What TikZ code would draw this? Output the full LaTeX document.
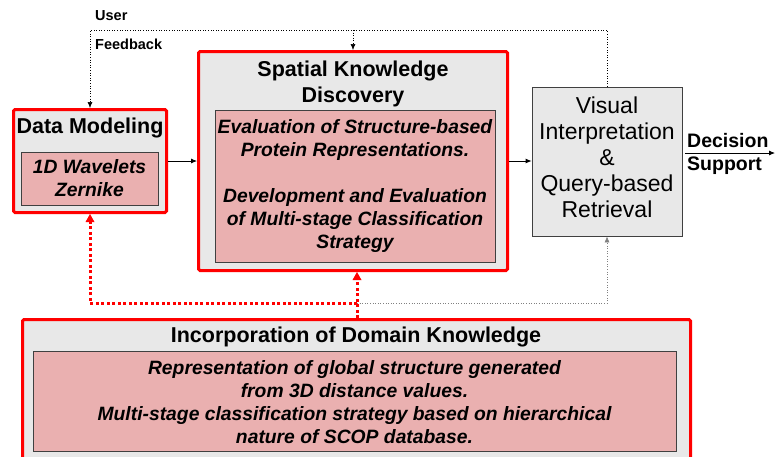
\documentclass[tikz,border=0pt]{standalone}
\usepackage{fontspec}
\setmainfont{Liberation Sans}
\usetikzlibrary{arrows.meta}
\definecolor{boxgray}{HTML}{E8E8E8}
\definecolor{boxpink}{HTML}{EAB0B0}
\definecolor{framegray}{HTML}{404040}
\definecolor{redframe}{HTML}{FF0000}

\begin{document}
\begin{tikzpicture}[x=1pt,y=-1pt,
  outerbox/.style={draw=redframe, line width=3pt, fill=boxgray, rounded corners=1.5pt, inner sep=0pt},
  innerbox/.style={draw=framegray, line width=0.8pt, fill=boxpink, inner sep=0pt},
  plainbox/.style={draw=framegray, line width=0.8pt, fill=boxgray, inner sep=0pt},
  titletext/.style={font=\bfseries\fontsize{21.5}{26}\selectfont, align=center, inner sep=0pt},
  itemtext/.style={font=\bfseries\itshape\fontsize{19.3}{23}\selectfont, align=center, inner sep=0pt},
  plaintext/.style={font=\fontsize{23}{26}\selectfont, align=center, inner sep=0pt},
  smalltext/.style={font=\bfseries\fontsize{14.5}{16}\selectfont, inner sep=0pt},
  sidetext/.style={font=\bfseries\fontsize{19.5}{23}\selectfont, inner sep=0pt, anchor=base west},
  flow/.style={line width=0.8pt, -{Latex[length=6pt,width=5pt]}},
  feedback/.style={line width=0.6pt, dotted, -{Latex[length=6pt,width=5pt]}},
  softlink/.style={draw=gray, line width=0.6pt, dotted, -{Latex[length=6pt,width=5pt]}},
  domainlink/.style={draw=redframe, line width=3pt, dash pattern=on 3pt off 2.5pt,
                     -{Triangle[length=8pt,width=9pt,line width=0pt]}},
]
\clip (0,0) rectangle (775,456);
\useasboundingbox (0,0) rectangle (775,456);

% boxes
\node[outerbox, minimum width=153pt, minimum height=103pt] (dm) at (90,161) {};
\node[innerbox, minimum width=137pt, minimum height=53pt] (dmin) at (89.5,178.5) {};
\node[outerbox, minimum width=309pt, minimum height=219pt] (skd) at (353,161) {};
\node[innerbox, minimum width=280pt, minimum height=152pt] (skdin) at (355,186) {};
\node[plainbox, minimum width=150pt, minimum height=149pt] (vis) at (607,161.5) {};
\node[outerbox, minimum width=668pt, minimum height=170pt] (inc) at (356.5,404.5) {};
\node[innerbox, minimum width=643pt, minimum height=100pt] (incin) at (354.5,401) {};

% texts
\node[titletext] (dmt) at (90,128) {Data Modeling};
\node[itemtext] (dmit) at (dmin.center) {1D Wavelets\\Zernike};
\node[titletext] (skdt) at (353,84) {Spatial Knowledge\\Discovery};
\node[itemtext] (skdit) at (skdin.center) {Evaluation of Structure-based\\Protein Representations.\\[23pt]Development and Evaluation\\of Multi-stage Classification\\Strategy};
\node[plaintext] (vist) at ([yshift=4pt]vis.center) {Visual\\Interpretation\\\&\\Query-based\\Retrieval};
\node[titletext] (inct) at (356,337) {Incorporation of Domain Knowledge};
\node[itemtext] (incit) at ([yshift=-1.5pt]incin.center) {Representation of global structure generated\\from 3D distance values.\\Multi-stage classification strategy based on hierarchical\\nature of SCOP database.};
\node[smalltext, anchor=base west] (user) at (95,20) {User};
\node[smalltext, anchor=base west] (fbk) at (95,49) {Feedback};
\node[sidetext] (dec) at (687,147) {Decision};
\node[sidetext] (sup) at (687,170) {Support};

% main flow
\draw[flow] (dm.east) -- (skd.west);
\draw[flow] (skd.east) -- (vis.west |- skd.east);
\coordinate (out) at (775,153);
\draw[flow] (vis.east |- out) ++(3,0) -- (out);

% user feedback loop
\coordinate (fbline) at (0,30);
\draw[feedback] (vis.north) |- (dm.north |- fbline) -- (dm.north);
\draw[feedback] (skd.north |- fbline) -- (skd.north);

% domain knowledge links
\coordinate (junc) at (357,303);
\draw[domainlink] (inc.north -| junc) -- (skd.south -| junc);
\draw[domainlink] (junc) -| (dm.south);
\draw[softlink] (junc) -| (vis.south);
\end{tikzpicture}
\end{document}
